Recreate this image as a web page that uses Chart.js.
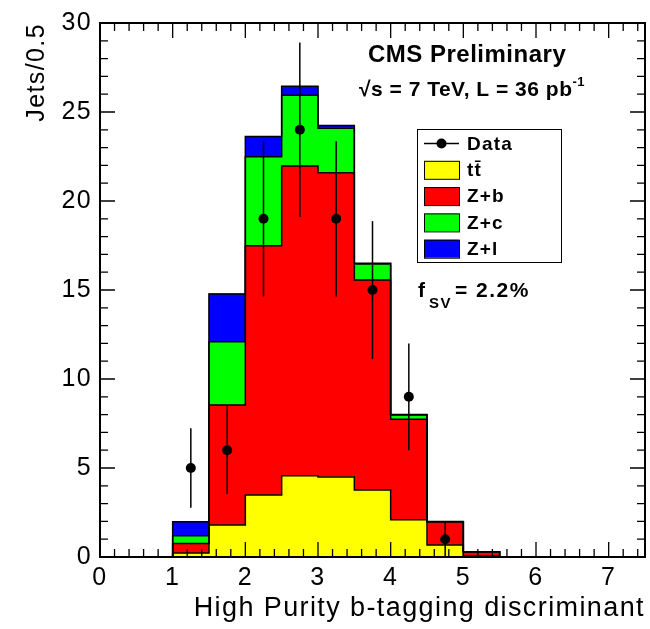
<!DOCTYPE html>
<html>
<head>
<meta charset="utf-8">
<script src="https://cdn.jsdelivr.net/npm/chart.js@4.4.1/dist/chart.umd.min.js"></script>
<style>
  html, body { margin: 0; padding: 0; background: #fff; }
  canvas { display: block; }
</style>
</head>
<body>
<canvas id="discriminantChart" width="650" height="629"></canvas>
<script>
// bin edges of the histogram (width 0.5)
const binEdges = [1.0, 1.5, 2.0, 2.5, 3.0, 3.5, 4.0, 4.5, 5.0, 5.5];

// simulated contributions per bin (stacked bottom to top)
const ttbar = [0.22, 1.80, 3.48, 4.57, 4.50, 3.76, 2.09, 0.67, 0.05];
const zPlusB = [0.54, 6.74, 14.00, 17.39, 17.09, 11.80, 5.65, 1.31, 0.25];
const zPlusC = [0.44, 3.55, 5.00, 3.98, 2.50, 0.90, 0.24, 0.00, 0.00];
const zPlusL = [0.78, 2.69, 1.15, 0.50, 0.15, 0.04, 0.02, 0.02, 0.00];

const seriesNames = ["tt\u0304", "Z+b", "Z+c", "Z+l"];
const seriesColors = ["#ffff00", "#ff0000", "#00ff00", "#0000ff"];

// observed data
const dataX = [1.25, 1.75, 2.25, 2.75, 3.25, 3.75, 4.25, 4.75];
const dataY = [5, 6, 19, 24, 19, 15, 9, 1];
const dataErr = [2.24, 2.45, 4.36, 4.90, 4.36, 3.87, 3.00, 1.00];

const xTitle = "High Purity b-tagging discriminant";
const yTitle = "Jets/0.5";

const FONT = "'Liberation Sans', Arial, Helvetica, sans-serif";
Chart.defaults.font.family = FONT;
Chart.defaults.color = "#000";

const centers = binEdges.slice(0, -1).map((e, i) => (e + binEdges[i + 1]) / 2);
const layers = [ttbar, zPlusB, zPlusC, zPlusL];

// cumulative heights, used for the black histogram outlines
const cumulative = [];
layers.forEach((arr, k) => {
    cumulative.push(arr.map((v, i) => v + (k > 0 ? cumulative[k - 1][i] : 0)));
});

function outlinePoints(cum) {
    const pts = [{ x: binEdges[0], y: 0 }];
    cum.forEach((v, i) => pts.push({ x: binEdges[i], y: v }));
    pts.push({ x: binEdges[binEdges.length - 1], y: 0 });
    return pts;
}

const datasets = [];
datasets.push({
    type: "scatter",
    label: "Data",
    data: dataX.map((x, i) => ({ x: x, y: dataY[i] })),
    stack: "data",
    pointRadius: 5,
    pointHoverRadius: 5,
    pointBackgroundColor: "#000",
    pointBorderWidth: 0,
});
for (let k = layers.length - 1; k >= 0; k--) {
    datasets.push({
        type: "line",
        label: "outline " + seriesNames[k],
        data: outlinePoints(cumulative[k]),
        stack: "outline" + k,
        stepped: "before",
        borderColor: "#000",
        borderWidth: 1.5,
        pointRadius: 0,
        fill: false,
    });
}
layers.forEach((arr, k) => {
    datasets.push({
        type: "bar",
        label: seriesNames[k],
        data: arr.map((v, i) => ({ x: centers[i], y: v })),
        backgroundColor: seriesColors[k],
        borderWidth: 0,
        barPercentage: 1.0,
        categoryPercentage: 1.0,
    });
});

function spaced(ctx, px) {
    ctx.letterSpacing = px + "px";
}

const rootStyle = {
    id: "rootStyle",
    beforeDraw(chart) {
        spaced(chart.ctx, 1.4);
    },
    afterDatasetsDraw(chart) {
        const { ctx, chartArea: a, scales: { x, y } } = chart;
        ctx.save();
        ctx.strokeStyle = "#000";

        // vertical error bars on the data
        ctx.lineWidth = 1.5;
        dataX.forEach((v, i) => {
            const px = x.getPixelForValue(v);
            ctx.beginPath();
            ctx.moveTo(px, y.getPixelForValue(dataY[i] - dataErr[i]));
            ctx.lineTo(px, y.getPixelForValue(dataY[i] + dataErr[i]));
            ctx.stroke();
        });

        // inward ticks on all four sides
        ctx.lineWidth = 1.3;
        for (let k = 0; k * 0.2 <= 7.5 + 1e-9; k++) {
            const px = x.getPixelForValue(k * 0.2);
            const len = k % 5 === 0 ? 15 : 8;
            ctx.beginPath();
            ctx.moveTo(px, a.bottom);
            ctx.lineTo(px, a.bottom - len);
            ctx.moveTo(px, a.top);
            ctx.lineTo(px, a.top + len);
            ctx.stroke();
        }
        for (let k = 0; k <= 30; k++) {
            const py = y.getPixelForValue(k);
            const len = k % 5 === 0 ? 15 : 8;
            ctx.beginPath();
            ctx.moveTo(a.left, py);
            ctx.lineTo(a.left + len, py);
            ctx.moveTo(a.right, py);
            ctx.lineTo(a.right - len, py);
            ctx.stroke();
        }

        // frame
        ctx.lineWidth = 2;
        ctx.strokeRect(a.left, a.top, a.right - a.left, a.bottom - a.top);
        ctx.restore();
    },
    afterDraw(chart) {
        const ctx = chart.ctx;
        ctx.save();
        ctx.fillStyle = "#000";
        ctx.textBaseline = "alphabetic";
        ctx.textAlign = "left";

        // CMS labels
        spaced(ctx, 0.5);
        ctx.font = "bold 24px " + FONT;
        ctx.fillText("CMS Preliminary", 368, 62);
        ctx.font = "bold 21px " + FONT;
        const line2 = "\u221As = 7 TeV, L = 36 pb";
        ctx.fillText(line2, 359, 96);
        const w2 = ctx.measureText(line2).width;
        ctx.font = "bold 13px " + FONT;
        ctx.fillText("-1", 359 + w2, 86);

        // legend box
        spaced(ctx, 1.2);
        const box = { left: 417, top: 129, width: 144, height: 133 };
        ctx.fillStyle = "#fff";
        ctx.fillRect(box.left, box.top, box.width, box.height);
        ctx.strokeStyle = "#000";
        ctx.lineWidth = 1;
        ctx.strokeRect(box.left + 0.5, box.top + 0.5, box.width, box.height);

        const rowY = (i) => 143.5 + i * 26.3;
        ctx.font = "bold 19px " + FONT;
        ctx.textBaseline = "middle";
        // data entry
        ctx.lineWidth = 1.5;
        ctx.beginPath();
        ctx.moveTo(424, rowY(0));
        ctx.lineTo(459, rowY(0));
        ctx.stroke();
        ctx.fillStyle = "#000";
        ctx.beginPath();
        ctx.arc(441.5, rowY(0), 5, 0, Math.PI * 2);
        ctx.fill();
        ctx.fillText("Data", 467, rowY(0) + 1);
        seriesNames.forEach((name, k) => {
            const cy = rowY(k + 1);
            ctx.fillStyle = seriesColors[k];
            ctx.fillRect(424, cy - 9, 35, 18);
            ctx.lineWidth = 1;
            ctx.strokeStyle = "#000";
            ctx.strokeRect(424.5, cy - 8.5, 35, 18);
            ctx.fillStyle = "#000";
            ctx.fillText(name, 467, cy + 1);
        });

        // f_SV label
        ctx.textBaseline = "alphabetic";
        spaced(ctx, 1.5);
        ctx.font = "bold 21px " + FONT;
        ctx.fillText("f", 418, 297);
        ctx.font = "bold 15px " + FONT;
        ctx.fillText("SV", 429, 308);
        ctx.font = "bold 21px " + FONT;
        ctx.fillText("= 2.2%", 455, 297);

        ctx.restore();
        spaced(ctx, 0);
    },
};

new Chart(document.getElementById("discriminantChart"), {
    type: "bar",
    data: { datasets: datasets },
    options: {
        responsive: false,
        animation: false,
        devicePixelRatio: 1,
        layout: { padding: { top: 17, right: 5, bottom: 0, left: 0 } },
        plugins: {
            legend: { display: false },
            tooltip: { enabled: false },
        },
        scales: {
            x: {
                type: "linear",
                min: 0,
                max: 7.5,
                offset: false,
                stacked: true,
                grid: { display: false, drawTicks: false, offset: false },
                border: { display: false },
                ticks: {
                    stepSize: 1,
                    includeBounds: false,
                    padding: 6,
                    font: { size: 25 },
                    color: "#000",
                },
                title: {
                    display: true,
                    text: xTitle,
                    align: "end",
                    color: "#000",
                    font: { size: 27 },
                    padding: { top: 0, bottom: 4 },
                },
                afterFit(scale) { scale.height = 72; },
            },
            y: {
                min: 0,
                max: 30,
                stacked: true,
                grid: { display: false, drawTicks: false },
                border: { display: false },
                ticks: {
                    stepSize: 5,
                    padding: 8,
                    font: { size: 25 },
                    color: "#000",
                },
                title: {
                    display: true,
                    text: yTitle,
                    align: "end",
                    color: "#000",
                    font: { size: 25 },
                    padding: { top: 22, bottom: 0 },
                },
                afterFit(scale) { scale.width = 100; },
            },
        },
    },
    plugins: [rootStyle],
});
</script>
</body>
</html>
